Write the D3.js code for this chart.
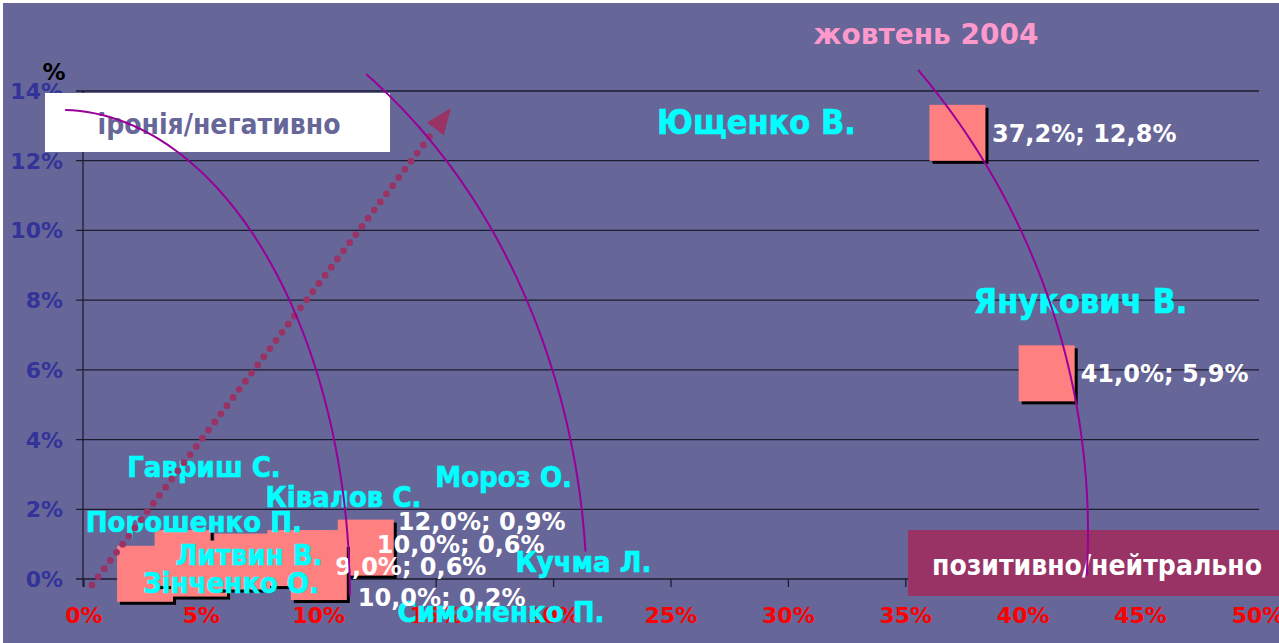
<!DOCTYPE html>
<html><head><meta charset="utf-8">
<script src="https://cdn.jsdelivr.net/npm/d3@7"></script>
<style>
html,body{margin:0;padding:0;background:#fff;overflow:hidden}
svg{display:block}
text{font-family:"DejaVu Sans Condensed","DejaVu Sans",sans-serif;font-stretch:condensed;font-weight:bold}
text.wide{font-family:"DejaVu Sans",sans-serif;font-stretch:normal}
</style></head><body>
<svg id="c" width="1279" height="643"></svg>
<script>
// ---- data ----
const title = "жовтень 2004";
const candidates = ["Ющенко В.","Янукович В.","Гавриш С.","Порошенко П.","Зінченко О.","Ківалов С.","Литвин В.","Мороз О.","Кучма Л.","Симоненко П."];
const coverage = [37.2, 41.0, 2.6, 4.2, 4.9, 6.75, 9.0, 10.0, 12.0, 10.0];   // x, %
const negative = [12.8, 5.9, 0.15, 0.6, 0.3, 0.5, 0.6, 0.6, 0.9, 0.2];     // y, %
const pointLabels = ["37,2%; 12,8%","41,0%; 5,9%","","","","","9,0%; 0,6%","10,0%; 0,6%","12,0%; 0,9%","10,0%; 0,2%"];
const xTicks = [0,5,10,15,20,25,30,35,40,45,50];
const yTicks = [0,2,4,6,8,10,12,14];
const negLabel = "іронія/негативно";
const posLabel = "позитивно/нейтрально";
const yTitle = "%";

// ---- layout (annotation placement, data units / px) ----
const nameAnchor = [[28.64,12.77],[42.44,7.63],[5.11,2.93],[4.68,1.35],[6.26,-0.40],[11.05,2.07],[7.03,0.40],[17.87,2.64],[21.27,0.20],[17.76,-1.23]];
const nameSize = [34,34,29,29,29,29,29,29,29,29];
const labelOffset = [[34.5,9],[34,9],[0,0],[0,0],[0,0],[0,0],[40,17],[58,-5],[32,-17.6],[39,34]];
const arcs = [
  {cx:-1.02, cy:-0.60, rx:12.35, ry:14.06, t0:89, t1:0.5},
  {cx:-1.02, cy:-0.60, rx:22.44, ry:18.53, t0:54.5, t1:4.3},
  {cx:12.27, cy:1.32, rx:30.49, ry:20.54, t0:40.3, t1:-3.4}
];
const arrow = {x0:0.34, y0:-0.17, x1:15.63, y1:13.51};

const W = 1279, H = 643;
const svg = d3.select("#c");
const x = d3.scaleLinear().domain([0,50]).range([84,1258]);
const y = d3.scaleLinear().domain([0,14]).range([579,91]);
const ux = x(1)-x(0), uy = y(0)-y(1);

svg.append("rect").attr("x",3).attr("y",3).attr("width",W).attr("height",H).attr("fill","#666699");

// gridlines
svg.append("g").selectAll("line").data(yTicks).join("line")
  .attr("x1",76).attr("x2",1259).attr("y1",d=>y(d)).attr("y2",d=>y(d))
  .attr("stroke","#1c1c30").attr("stroke-width",1.3);
// y axis
svg.append("line").attr("x1",83).attr("x2",83).attr("y1",y(14)).attr("y2",587).attr("stroke","#1c1c30").attr("stroke-width",1.3);
// x ticks
svg.append("g").selectAll("line").data(xTicks).join("line")
  .attr("x1",d=>x(d)).attr("x2",d=>x(d)).attr("y1",y(0)).attr("y2",587)
  .attr("stroke","#1c1c30").attr("stroke-width",1.3);

// tick labels
svg.append("g").selectAll("text").data(yTicks).join("text").attr("class","wide")
  .attr("x",63).attr("y",d=>y(d)+8).attr("text-anchor","end")
  .attr("font-size",22).attr("fill","#333399").text(d=>d+"%");
svg.append("g").selectAll("text").data(xTicks).join("text").attr("class","wide")
  .attr("x",d=>x(d)).attr("y",623).attr("text-anchor","middle")
  .attr("font-size",22).attr("fill","#ff0000").text(d=>d+"%");
svg.append("text").attr("class","wide").attr("x",54).attr("y",80).attr("text-anchor","middle")
  .attr("font-size",23).attr("fill","#000").text(yTitle);

// title
svg.append("text").attr("class","wide").attr("x",926).attr("y",44).attr("text-anchor","middle")
  .attr("font-size",28).attr("fill","#ff99cc").text(title);

// boxes
svg.append("rect").attr("x",45).attr("y",93).attr("width",345).attr("height",59).attr("fill","#fff");
svg.append("text").attr("x",219).attr("y",134).attr("text-anchor","middle")
  .attr("font-size",28).attr("fill","#666699").text(negLabel);
svg.append("rect").attr("x",908).attr("y",530).attr("width",380).attr("height",66).attr("fill","#993366");
svg.append("text").attr("x",1097).attr("y",575).attr("text-anchor","middle")
  .attr("font-size",28).attr("fill","#fff").text(posLabel);

// markers
const S = 56, off = 3;
const pts = candidates.map((n,i)=>({name:n, x:coverage[i], y:negative[i], label:pointLabels[i], i}));
const mg = svg.append("g");
pts.forEach(p=>{
  const cx = x(p.x), cy = y(p.y);
  mg.append("rect").attr("x",cx-S/2+off).attr("y",cy-S/2+off).attr("width",S).attr("height",S).attr("fill","#000");
  mg.append("rect").attr("x",cx-S/2).attr("y",cy-S/2).attr("width",S).attr("height",S).attr("fill","#ff8080");
});

// candidate names
svg.append("g").selectAll("text").data(pts).join("text")
  .attr("x",p=>x(nameAnchor[p.i][0])).attr("y",p=>y(nameAnchor[p.i][1]))
  .attr("text-anchor","middle").attr("font-size",p=>nameSize[p.i])
  .attr("fill","#00ffff").attr("stroke","#00ffff").attr("stroke-width",0.6).text(p=>p.name);

// data labels
svg.append("g").selectAll("text").data(pts.filter(p=>p.label)).join("text").attr("class","wide")
  .attr("x",p=>x(p.x)+labelOffset[p.i][0]).attr("y",p=>y(p.y)+labelOffset[p.i][1])
  .attr("font-size",24).attr("fill","#fff").text(p=>p.label);

// dotted arrow
{
  const ax0=x(arrow.x0), ay0=y(arrow.y0), ax1=x(arrow.x1), ay1=y(arrow.y1);
  const L = Math.hypot(ax1-ax0, ay1-ay0), ux1=(ax1-ax0)/L, uy1=(ay1-ay0)/L;
  const head = 26, step = 10.2;
  const n = Math.floor((L-head)/step);
  svg.append("g").selectAll("circle").data(d3.range(n+1)).join("circle")
    .attr("cx",k=>ax0+ux1*k*step).attr("cy",k=>ay0+uy1*k*step).attr("r",3.4).attr("fill","#993366");
  const bx = ax1-ux1*head, by = ay1-uy1*head, px=-uy1, py=ux1, hw=10.5;
  svg.append("path").attr("d",`M${ax1},${ay1}L${bx+px*hw},${by+py*hw}L${bx-px*hw},${by-py*hw}Z`).attr("fill","#993366");
}

// arcs
svg.append("g").selectAll("path").data(arcs).join("path")
  .attr("d",a=>{
    const cx=x(a.cx), cy=y(a.cy), rx=a.rx*ux, ry=a.ry*uy;
    return d3.line()(d3.range(0,61).map(k=>{
      const t=(a.t0+(a.t1-a.t0)*k/60)*Math.PI/180;
      return [cx+rx*Math.cos(t), cy-ry*Math.sin(t)];
    }));
  })
  .attr("fill","none").attr("stroke","#990099").attr("stroke-width",2);
</script>
</body></html>
